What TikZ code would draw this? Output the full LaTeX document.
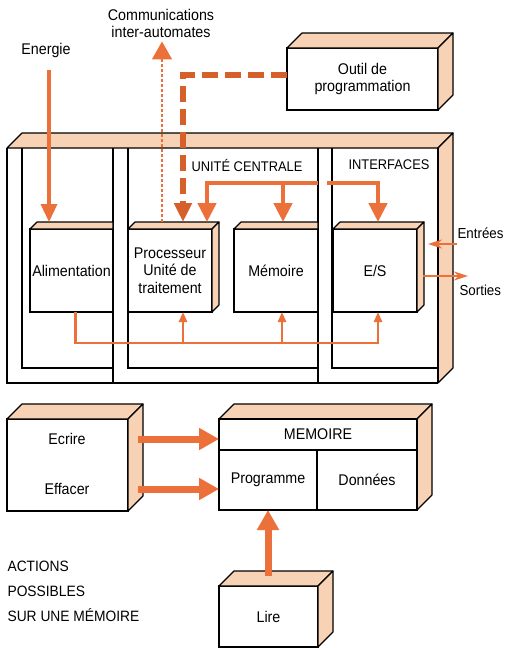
\documentclass[tikz,border=0pt]{standalone}
\usepackage{fontspec}
\setmainfont{Liberation Sans}[FakeStretch=0.92]
\usetikzlibrary{arrows.meta}
\definecolor{orangevif}{RGB}{236,112,58}
\definecolor{orangefonce}{RGB}{214,96,42}
\definecolor{peche}{RGB}{248,210,180}

% dessus et cote d'une boite vue en relief
\newcommand{\boitecube}[2]{%
    \filldraw[face] (#1.north west) -- ++(#2,-#2) -- ([shift={(#2,-#2)}]#1.north east) -- (#1.north east) -- cycle;
    \filldraw[face] (#1.north east) -- ++(#2,-#2) -- ([shift={(#2,-#2)}]#1.south east) -- (#1.south east) -- cycle;}
% dessus seul, coupe par le tiroir voisin
\newcommand{\boitedessus}[2]{%
    \filldraw[face] (#1.north west) -- ++(#2,-#2) -| (#1.north east) -- cycle;}

\begin{document}
\begin{tikzpicture}[x=1pt,y=-1pt,line width=1.1pt,
    face/.style={fill=peche,draw=black,line join=round},
    module/.style={draw,fill=white,inner sep=0pt,outer sep=0pt,align=center,font=\fontsize{15.5}{17.5}\selectfont},
    texte/.style={inner sep=0pt,align=center,font=\fontsize{15.5}{17.5}\selectfont},
    titre/.style={texte,font=\fontsize{14}{16}\selectfont},
    fleche/.style={orangevif,line width=3.5pt,-{Triangle[width=16pt,length=18pt]},shorten >=7pt},
    bus/.style={orangevif,line width=4.5pt,-{Triangle[width=18pt,length=19pt]},shorten >=7pt},
    busbas/.style={orangevif,line width=2.5pt,-{Triangle[width=8pt,length=10pt]}},
    tirets/.style={orangefonce,line width=6.5pt,dash pattern=on 16pt off 7pt,-{Triangle[width=17pt,length=19pt]},shorten >=7pt},
    pointille/.style={orangevif,line width=1.4pt,dash pattern=on 3pt off 2pt,-{Triangle[width=20pt,length=18pt]},shorten >=3pt},
    fine/.style={orangevif,line width=2pt,-{Stealth[width=9pt,length=14pt]}},
    large/.style={orangevif,line width=7pt,-{Triangle[width=21pt,length=20pt]}}]
    \useasboundingbox[fill=white] (0,0) rectangle (505,648);

    % Meuble
    \filldraw[face] (7,148) -- (22,133) -- (453,133) -- (438,148) -- cycle;
    \filldraw[face] (438,148) -- (453,133) -- (453,368) -- (438,383) -- cycle;
    \draw (7,148) -- (7,383) -- (438,383);
    \foreach \i/\d in {22/113, 128/318, 332/438} {
        \draw (\i,148) |- (\d,368);
        \draw (\d,148) -- (\d,383);
    }

    % Tiroirs
    \node[module, minimum width=83pt, minimum height=83pt] (alim) at (71.5,270.5) {Alimentation};
    \boitedessus{alim}{7}
    \node[module, minimum width=84pt, minimum height=83pt] (proc) at (170,270.5) {Processeur\\Unité de\\traitement};
    \boitecube{proc}{7}
    \node[module, minimum width=84pt, minimum height=83pt] (mem) at (276,270.5) {Mémoire};
    \boitedessus{mem}{7}
    \node[module, minimum width=84pt, minimum height=83pt] (es) at (375,270.5) {E/S};
    \boitecube{es}{7}

    % Outil de programmation
    \node[module, minimum width=151pt, minimum height=62pt] (outil) at (362.5,79) {Outil de\\programmation};
    \boitecube{outil}{15}

    % Titres
    \node[titre] (uc) at (247,165) {UNITÉ CENTRALE};
    \node[titre] (inter) at (389,165) {INTERFACES};
    \node[texte] (comm) at (161,23.5) {Communications\\inter-automates};
    \node[texte] (energie) at (46,50) {Energie};
    \node[texte, anchor=west, font=\fontsize{14.5}{16}\selectfont] (entrees) at (457,233) {Entrées};
    \node[texte, anchor=west, font=\fontsize{14.5}{16}\selectfont] (sorties) at (459,290) {Sorties};

    % Liaisons
    \draw[fleche] ([xshift=3pt,yshift=-20pt]energie.center) coordinate (e0) -- (e0 |- alim.north);
    \draw[tirets] ([yshift=4pt]outil.west) -| ([xshift=13pt]proc.north);
    \draw[pointille] ([xshift=-8pt,yshift=7pt]proc.north) coordinate (c0) -- (c0 |- comm.south);
    \draw[bus] (318,183) -| ([xshift=-5pt]proc.north east);
    \draw[bus] (283,183) -- (283,0 |- mem.north);
    \draw[bus] (327,183) -| (378,0 |- es.north);
    \draw[busbas] ([xshift=4pt]alim.south) |- (378,343) -- (378,0 |- es.south);
    \draw[busbas] (183,343) -- (183,0 |- proc.south);
    \draw[busbas] (282,343) -- (282,0 |- mem.south);
    \coordinate (ent) at ([yshift=-11pt]entrees.west);
    \draw[fine, shorten >=11pt] (ent) -- (ent -| es.east);
    \coordinate (sor) at ([yshift=14pt]sorties.west);
    \draw[fine, shorten <=6pt, shorten >=-9pt] (sor -| es.east) -- (sor);

    % Actions sur la memoire
    \node[module, minimum width=121pt, minimum height=92pt] (ecbox) at (67.5,465) {};
    \boitecube{ecbox}{15}
    \node[texte] (ecrire) at (67,439) {Ecrire};
    \node[texte] (effacer) at (67,489) {Effacer};
    \node[module, minimum width=198pt, minimum height=91pt] (memoire) at (318,464.5) {};
    \boitecube{memoire}{15}
    \node[module, minimum width=198pt, minimum height=31pt] (memtitre) at (318,434.5) {MEMOIRE};
    \node[module, minimum width=98pt, minimum height=60pt] (programme) at (268,480) {Programme};
    \node[module, minimum width=100pt, minimum height=60pt] (donnees) at (367,480) {Données};
    \node[module, minimum width=99pt, minimum height=61pt] (lire) at (268.5,616.5) {Lire};
    \boitecube{lire}{15}
    \node[texte, align=left, anchor=west, font=\fontsize{15}{25}\selectfont] (actions) at (7,591) {ACTIONS\\POSSIBLES\\SUR UNE MÉMOIRE};

    \draw[large, shorten <=10pt] (ecrire -| ecbox.east) -- (ecrire -| memoire.west);
    \draw[large, shorten <=10pt] (effacer -| ecbox.east) -- (effacer -| memoire.west);
    \draw[large, shorten <=10pt] (programme.south |- lire.north) -- (programme.south);
\end{tikzpicture}
\end{document}
